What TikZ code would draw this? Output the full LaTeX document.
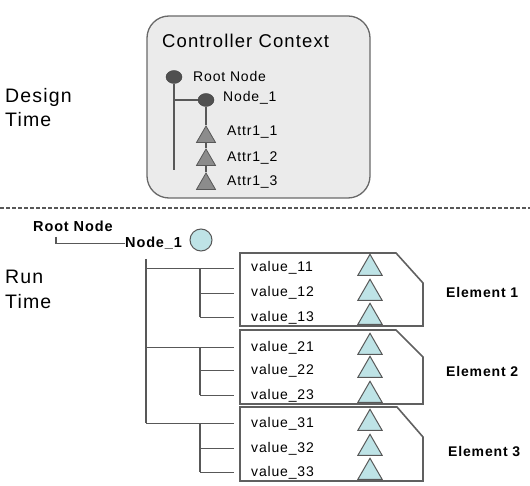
\documentclass[tikz,border=0pt]{standalone}
\usepackage{fontspec}
\setmainfont{Liberation Sans}[LetterSpace=6]
\usetikzlibrary{shapes.geometric}
\definecolor{ctxfill}{HTML}{EBEBEB}
\definecolor{ctxdark}{HTML}{505050}
\definecolor{attrgray}{HTML}{8C8C8C}
\definecolor{rtcyan}{HTML}{BEE3E6}
\definecolor{linegray}{HTML}{585858}
\tikzset{
  ctxbox/.style={draw=linegray!90, fill=ctxfill, rounded corners=22pt, line width=1.3pt,
    minimum width=223pt, minimum height=182pt, inner sep=0pt},
  ctxnode/.style={ellipse, draw=ctxdark!80!black, fill=ctxdark, minimum width=16pt,
    minimum height=13pt, inner sep=0pt},
  ctxattr/.style={regular polygon, regular polygon sides=3, draw=linegray, fill=attrgray,
    minimum size=22pt, inner sep=0pt, line width=0.8pt},
  ctxlink/.style={draw=linegray, line width=1.8pt},
  txt/.style={anchor=base west, inner sep=0pt, font=\fontsize{14}{16}\selectfont},
  bigtxt/.style={anchor=north west, inner sep=0pt, align=left, font=\fontsize{19.5}{24.5}\selectfont},
  boldtxt/.style={txt, font=\fontsize{14.5}{16}\selectfont\bfseries},
  rtcircle/.style={circle, draw=linegray, fill=rtcyan, minimum size=22pt, inner sep=0pt, line width=1pt},
  rtattr/.style={regular polygon, regular polygon sides=3, draw=linegray, fill=rtcyan,
    minimum size=28pt, inner sep=0pt, line width=1pt},
  rtelem/.style={draw=linegray!95, line width=1.6pt, line join=miter},
  rtlink/.style={draw=linegray, line width=1.5pt},
  sepline/.style={draw=linegray, line width=1.2pt, dash pattern=on 4pt off 2pt}
}
\begin{document}
\begin{tikzpicture}[x=1pt, y=-1pt]
  \useasboundingbox (0,0) rectangle (530,486);
  % design time
  \node[bigtxt] (dtime) at (5,88) {Design\\Time};
  \node[ctxbox] (ctx) at (258.5,107) {};
  \node[txt, font=\fontsize{18.5}{20}\selectfont] (ctxtitle) at (162,48) {Controller Context};
  \node[ctxnode] (droot) at (174,77) {};
  \node[txt] (drootlbl) at (193,82) {Root Node};
  \node[ctxnode] (dn1) at (206,100) {};
  \node[txt] (dn1lbl) at (223,102) {Node\_1};
  \node[ctxattr] (da1) at (206,137) {};
  \node[ctxattr] (da2) at (206,160) {};
  \node[ctxattr] (da3) at (206,184) {};
  \node[txt] (da1lbl) at (227,136) {Attr1\_1};
  \node[txt] (da2lbl) at (227,162) {Attr1\_2};
  \node[txt] (da3lbl) at (227,186) {Attr1\_3};
  \coordinate (drj) at (174,100);
  \coordinate (drend) at (174,170);
  \draw[ctxlink] (droot) -- (drend);
  \draw[ctxlink] (drj) -- (dn1);
  \draw[ctxlink] (dn1) -- (da1) -- (da2) -- (da3);

  \draw[sepline] (0,208) -- (530,208);

  % run time
  \node[bigtxt] (rtime) at (5,270) {Run\\Time};
  \node[boldtxt] (rroot) at (33,232) {Root Node};
  \node[boldtxt] (rn1) at (125,248) {Node\_1};
  \node[rtcircle] (rc) at (201,240) {};
  \coordinate (rrj) at (56,237);
  \draw[rtlink, line width=1.2pt] (rrj) |- (rn1.west);

  \draw[rtelem] (240,253) -- (396,253) -- (423,283) -- (423,326) -- (240,326) -- cycle;
  \draw[rtelem] (240,330) -- (396,330) -- (423,357) -- (423,404) -- (240,404) -- cycle;
  \draw[rtelem] (240,407) -- (397,407) -- (423,437) -- (423,481) -- (240,481) -- cycle;

  \node[txt] (v11) at (251,272) {value\_11};
  \node[txt] (v12) at (251,297) {value\_12};
  \node[txt] (v13) at (251,321) {value\_13};
  \node[txt] (v21) at (251,351) {value\_21};
  \node[txt] (v22) at (251,374) {value\_22};
  \node[txt] (v23) at (251,399) {value\_23};
  \node[txt] (v31) at (251,427) {value\_31};
  \node[txt] (v32) at (251,452) {value\_32};
  \node[txt] (v33) at (251,476) {value\_33};

  \coordinate (tc) at (370,0);
  \foreach \v in {11,12,13,21,22,23,31,32,33}
    \node[rtattr] (t\v) at (tc |- v\v.west) {};

  \node[txt, font=\fontsize{14}{16}\selectfont\bfseries] (el1) at (446,298) {Element 1};
  \node[txt, font=\fontsize{14}{16}\selectfont\bfseries] (el2) at (446,376) {Element 2};
  \node[txt, font=\fontsize{14}{16}\selectfont\bfseries] (el3) at (448,456) {Element 3};

  \coordinate (tk) at (146,259);
  \coordinate (br) at (200,259);
  \draw[rtlink] (tk) -- (tk |- v31.west);
  \foreach \g in {1,2,3} {
    \draw[rtlink, shorten >=17pt] (tk |- v\g1.west) -- (v\g1.west);
    \draw[rtlink] (br |- v\g1.west) -- (br |- v\g3.west);
    \draw[rtlink, shorten >=17pt] (br |- v\g2.west) -- (v\g2.west);
    \draw[rtlink, shorten >=17pt] (br |- v\g3.west) -- (v\g3.west);
  }
\end{tikzpicture}
\end{document}
